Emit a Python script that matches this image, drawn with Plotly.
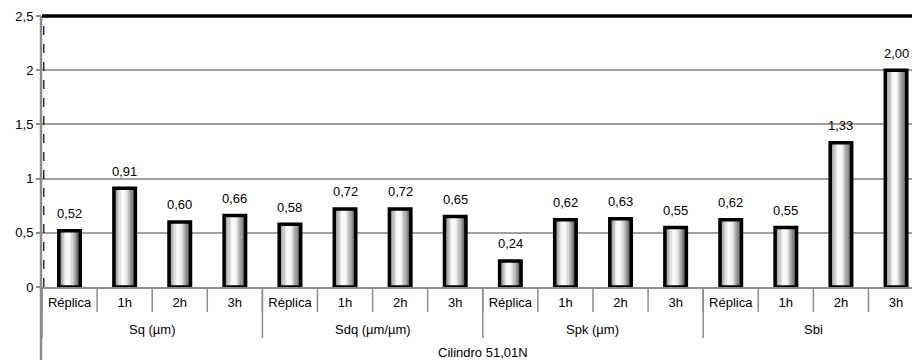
import numpy as np
import plotly.graph_objects as go

# ---------------- data ----------------
groups = ["Sq (µm)", "Sdq (µm/µm)", "Spk (µm)", "Sbi"]
times = ["Réplica", "1h", "2h", "3h"]
sq = [0.52, 0.91, 0.60, 0.66]
sdq = [0.58, 0.72, 0.72, 0.65]
spk = [0.24, 0.62, 0.63, 0.55]
sbi = [0.62, 0.55, 1.33, 2.00]
title_level3 = "Cilindro 51,01N"
ytick_vals = [0, 0.5, 1, 1.5, 2, 2.5]

values = sq + sdq + spk + sbi
inner_labels = times * len(groups)
n = len(values)
xs = np.arange(n)

# ---------------- style ----------------
FONT = "Arial, Liberation Sans, sans-serif"
FS = 13
BAR_W = 0.39
N_SLICES = 18
grad_stops = [(0.0, 100), (0.12, 160), (0.38, 252), (0.55, 245), (0.8, 160), (1.0, 75)]

def shade(t):
    for (p0, g0), (p1, g1) in zip(grad_stops[:-1], grad_stops[1:]):
        if p0 <= t <= p1:
            g = g0 + (g1 - g0) * (t - p0) / (p1 - p0)
            g = int(round(g))
            return f"rgb({g},{g},{g})"
    return "rgb(128,128,128)"

fig = go.Figure()
sw = BAR_W / N_SLICES
for k in range(N_SLICES):
    t = (k + 0.5) / N_SLICES
    fig.add_trace(go.Bar(
        x=xs, y=values, width=sw * 1.08, offset=-BAR_W / 2 + k * sw,
        marker=dict(color=shade(t), line=dict(width=0)),
        hoverinfo="skip", showlegend=False,
    ))
# outline
fig.add_trace(go.Bar(
    x=xs, y=values, width=BAR_W, offset=-BAR_W / 2,
    marker=dict(color="rgba(0,0,0,0)", line=dict(color="black", width=3.5)),
    showlegend=False,
))

# data labels
for xi, v in zip(xs, values):
    fig.add_annotation(x=xi, y=v, yshift=17, text=f"{v:.2f}".replace(".", ","),
                       showarrow=False, font=dict(family=FONT, size=FS, color="black"),
                       xref="x", yref="y")

H_PLOT = 271.0
SEP = "#8c8c8c"
# inner separators
for b in np.arange(-0.5, n, 1.0):
    fig.add_shape(type="line", xref="x", yref="paper", x0=b, x1=b, y0=0, y1=-25 / H_PLOT,
                  line=dict(color=SEP, width=1.5))
# group separators and labels
gs = len(times)
for gi, g in enumerate(groups):
    start = gi * gs - 0.5
    fig.add_shape(type="line", xref="x", yref="paper", x0=start, x1=start, y0=0, y1=-51 / H_PLOT,
                  line=dict(color=SEP, width=1.5))
    fig.add_annotation(x=gi * gs + (gs - 1) / 2, y=-42 / H_PLOT, xref="x", yref="paper",
                       text=g, showarrow=False, font=dict(family=FONT, size=FS, color="black"),
                       yanchor="middle")
# left line extending down
fig.add_shape(type="line", xref="paper", yref="paper", xsizemode="pixel", xanchor=0,
              x0=-1, x1=-1, y0=1, y1=-73 / H_PLOT, line=dict(color=SEP, width=2.5))
# dashed inner line along y axis
fig.add_shape(type="line", xref="paper", yref="paper", xsizemode="pixel", xanchor=0,
              x0=1.8, x1=1.8, y0=0, y1=1, line=dict(color="black", width=1.2, dash="dash"))
# level 3 label
fig.add_annotation(x=(n - 1) / 2, y=-65 / H_PLOT, xref="x", yref="paper", text=title_level3,
                   showarrow=False, font=dict(family=FONT, size=FS, color="black"), yanchor="middle")
# top thick border
fig.add_shape(type="line", xref="paper", yref="paper", x0=0, x1=1, y0=1, y1=1,
              line=dict(color="black", width=3.5))

fig.update_layout(
    width=912, height=360,
    margin=dict(l=42, r=0, t=16, b=73),
    barmode="overlay",
    plot_bgcolor="white", paper_bgcolor="white",
    separators=",.",
    font=dict(family=FONT, size=FS, color="black"),
    xaxis=dict(range=[-0.5, 15.29], tickmode="array", tickvals=list(xs), ticktext=inner_labels,
               showgrid=False, zeroline=False, showline=True, linecolor=SEP, linewidth=1.5,
               ticks="", tickfont=dict(family=FONT, size=FS, color="black"), ticklabelstandoff=3),
    yaxis=dict(range=[0, 2.5], tickvals=ytick_vals, showgrid=True, gridcolor="#a0a0a0", gridwidth=1.5,
               zeroline=False, showline=False, ticks="outside", ticklen=5, tickcolor=SEP,
               tickwidth=1.5, tickfont=dict(family=FONT, size=FS, color="black")),
)

fig.write_html("out.html")
